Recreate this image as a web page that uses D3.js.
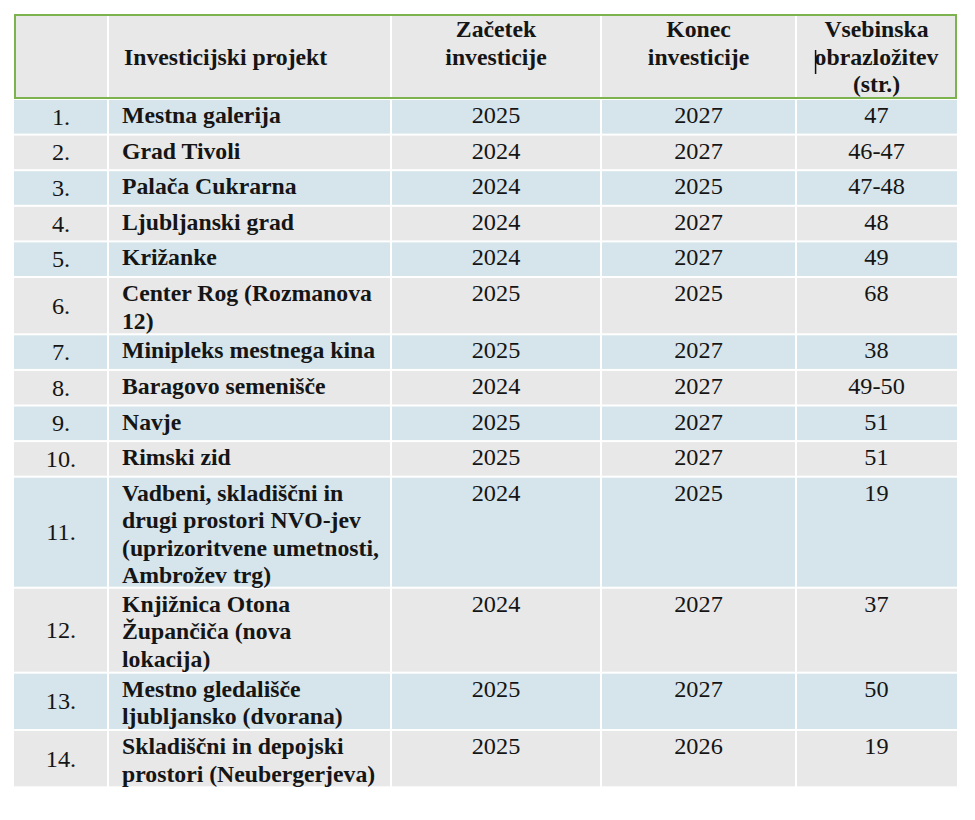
<!DOCTYPE html>
<html>
<head>
<meta charset="utf-8">
<script src="https://cdn.jsdelivr.net/npm/d3@7"></script>
<style>
  html, body { margin: 0; padding: 0; background: #ffffff; }
  svg { display: block; }
</style>
</head>
<body>
<svg id="chart" width="975" height="820"></svg>
<script>
// ---------- data ----------
const headers = [
  [""],
  ["Investicijski projekt"],
  ["Začetek", "investicije"],
  ["Konec", "investicije"],
  ["Vsebinska", "obrazložitev", "(str.)"]
];
const rowNumbers = ["1.", "2.", "3.", "4.", "5.", "6.", "7.", "8.", "9.", "10.", "11.", "12.", "13.", "14."];
const projects = [
  ["Mestna galerija"],
  ["Grad Tivoli"],
  ["Palača Cukrarna"],
  ["Ljubljanski grad"],
  ["Križanke"],
  ["Center Rog (Rozmanova", "12)"],
  ["Minipleks mestnega kina"],
  ["Baragovo semenišče"],
  ["Navje"],
  ["Rimski zid"],
  ["Vadbeni, skladiščni in", "drugi prostori NVO-jev", "(uprizoritvene umetnosti,", "Ambrožev trg)"],
  ["Knjižnica Otona", "Župančiča (nova", "lokacija)"],
  ["Mestno gledališče", "ljubljansko (dvorana)"],
  ["Skladiščni in depojski", "prostori (Neubergerjeva)"]
];
const startYears = ["2025", "2024", "2024", "2024", "2024", "2025", "2025", "2024", "2025", "2025", "2024", "2024", "2025", "2025"];
const endYears   = ["2027", "2027", "2025", "2027", "2027", "2025", "2027", "2027", "2027", "2027", "2025", "2027", "2027", "2026"];
const pages      = ["47", "46-47", "47-48", "48", "49", "68", "38", "49-50", "51", "51", "19", "37", "50", "19"];

// ---------- layout ----------
const svg = d3.select("#chart");
const colEdges = [14, 108, 391, 601, 796, 957];
const headerTop = 14, headerBottom = 99;
const heightByLines = {1: 35.6, 2: 57.3, 3: 85, 4: 111};
const lineGap = 27.5;
const fontSize = 22.5;
const sxRegular = 1.08, sxBold = 1.055;
const blue = "#d5e5eb", gray = "#e8e8e8", green = "#7db34f", ink = "#151515";

const rowHeights = projects.map(p => heightByLines[p.length]);
const rowTops = [];
rowHeights.reduce((acc, h) => { rowTops.push(acc); return acc + h; }, headerBottom);
const yTop = d3.scaleOrdinal().domain(d3.range(projects.length)).range(rowTops);
const xLeft = d3.scaleOrdinal().domain(d3.range(5)).range(colEdges.slice(0, 5));
const xRight = d3.scaleOrdinal().domain(d3.range(5)).range(colEdges.slice(1));
const xMid = i => (xLeft(i) + xRight(i)) / 2;

function addText(g, x, y, str, anchor, bold) {
  const sx = bold ? sxBold : sxRegular;
  return g.append("text")
    .attr("transform", `translate(${x},${y}) scale(${sx},1)`)
    .attr("text-anchor", anchor)
    .style("font-family", "Liberation Serif")
    .attr("font-size", fontSize)
    .attr("font-weight", bold ? "bold" : "normal")
    .attr("fill", ink)
    .text(str);
}

// ---------- header ----------
const head = svg.append("g");
head.selectAll("rect.hcell").data(d3.range(5)).join("rect")
  .attr("class", "hcell")
  .attr("x", i => xLeft(i) + (i === 0 ? 0 : 1))
  .attr("y", headerTop)
  .attr("width", i => xRight(i) - xLeft(i) - (i === 0 ? 1 : 2) + (i === 4 ? 1 : 0))
  .attr("height", headerBottom - headerTop)
  .attr("fill", gray);

let caretAnchor = null;
headers.forEach((lines, c) => {
  if (c === 1) {
    addText(head, 124, (headerTop + headerBottom) / 2 + 8.5, lines[0], "start", true);
  } else {
    lines.forEach((ln, k) => {
      const t = addText(head, xMid(c), headerTop + 23 + k * lineGap, ln, "middle", true);
      if (c === 4 && k === 1) caretAnchor = t;
    });
  }
});
// green frame of header row
head.append("rect")
  .attr("x", colEdges[0] + 1).attr("y", headerTop + 1)
  .attr("width", colEdges[5] - colEdges[0] - 2).attr("height", headerBottom - headerTop - 2)
  .attr("fill", "none").attr("stroke", green).attr("stroke-width", 2);
// text caret in the header, placed at the start of "obrazložitev"
let caretX = 816;
if (caretAnchor) {
  const bb = caretAnchor.node().getBBox();
  caretX = xMid(4) + bb.x * sxBold + 1;
}
head.append("line")
  .attr("x1", caretX).attr("x2", caretX).attr("y1", 50).attr("y2", 74)
  .attr("stroke", "#111").attr("stroke-width", 1.5);

// ---------- body ----------
const rows = svg.append("g").selectAll("g.row").data(d3.range(projects.length)).join("g").attr("class", "row");

rows.each(function(r) {
  const g = d3.select(this);
  const top = yTop(r), h = rowHeights[r];
  const fill = r % 2 === 0 ? blue : gray;
  g.selectAll("rect").data(d3.range(5)).join("rect")
    .attr("x", i => xLeft(i) + (i === 0 ? 0 : 1))
    .attr("y", top + 1)
    .attr("width", i => xRight(i) - xLeft(i) - (i === 0 ? 1 : 2) + (i === 4 ? 1 : 0))
    .attr("height", h - 2)
    .attr("fill", fill);

  addText(g, xMid(0), top + h / 2 + 8, rowNumbers[r], "middle", false);
  projects[r].forEach((ln, k) => addText(g, 122, top + 24 + k * lineGap, ln, "start", true));
  addText(g, xMid(2), top + 24, startYears[r], "middle", false);
  addText(g, xMid(3), top + 24, endYears[r], "middle", false);
  addText(g, xMid(4), top + 24, pages[r], "middle", false);
});
</script>
</body>
</html>
